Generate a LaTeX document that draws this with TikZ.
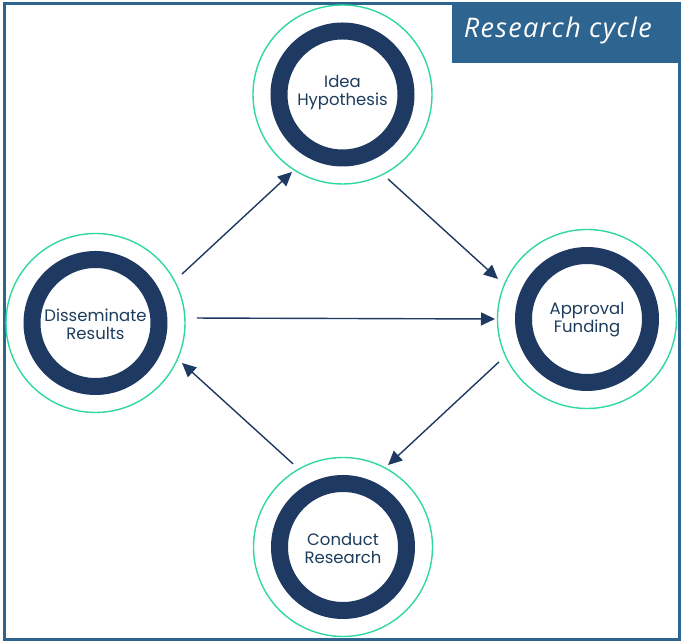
\documentclass[tikz,border=0pt]{standalone}
\usepackage{fontspec}
\setmainfont{Poppins}
\newfontfamily\titlefont{Open Sans}[LetterSpace=5]
\usetikzlibrary{calc,arrows.meta}
\definecolor{navy}{HTML}{1F3A62}
\definecolor{txtc}{HTML}{1D3D5C}
\definecolor{mint}{HTML}{2ED8A0}
\definecolor{frameblue}{HTML}{2E6490}
\tikzset{
  x=1pt,y=1pt,
  greenc/.style={circle,draw=mint,line width=1.4pt,minimum size=179pt,inner sep=0pt,outer sep=0pt},
  ring/.style={draw=navy,line width=17pt},
  lbl/.style={text=txtc,align=center,font=\fontsize{16.5}{18}\selectfont},
  arr/.style={draw=navy,line width=1.4pt,-{Triangle[length=14pt,width=13pt]}},
}
\begin{document}
\begin{tikzpicture}
\useasboundingbox (0,0) rectangle (681,642);
\fill[white] (0,0) rectangle (681,642);
\draw[frameblue,line width=3pt] (4.5,2) rectangle (679.5,638.5);
\node[fill=frameblue,minimum width=226pt,minimum height=60pt,inner sep=0pt,anchor=north east] (title) at (678,639) {};
\node[text=white,font=\titlefont\itshape\fontsize{27}{30}\selectfont] at ($(title.center)+(-7,3)$) {Research cycle};

\node[greenc] (T) at (342.5,547.5) {};
\node[greenc] (L) at (95.5,319) {};
\node[greenc] (R) at (587,323) {};
\node[greenc] (B) at (343,95) {};
\foreach \n in {T,L,R,B} \draw[ring] (\n.center) circle (63.5);
\node[lbl] at ($(T.center)+(0,2)$) {Idea\\Hypothesis};
\node[lbl] at ($(L.center)+(0,-1)$) {Disseminate\\Results};
\node[lbl] at ($(R.center)+(0,-1)$) {Approval\\Funding};
\node[lbl] at ($(B.center)+(0,-1)$) {Conduct\\Research};

\draw[arr] ($(L.center)+(29.5:99.4)$) -- ($(T.center)+(236.9:92.5)$);
\draw[arr] ($(T.center)+(298.3:96)$) -- ($(R.center)+(155.8:97.6)$);
\draw[arr] ($(L.center)+(2.8:101.6)$) -- ($(R.center)+(180:92)$);
\draw[arr] ($(R.center)+(206:98)$) -- ($(B.center)+(61.2:93.5)$);
\draw[arr] ($(B.center)+(121:97)$) -- ($(L.center)+(-24.8:95.3)$);
\end{tikzpicture}
\end{document}
